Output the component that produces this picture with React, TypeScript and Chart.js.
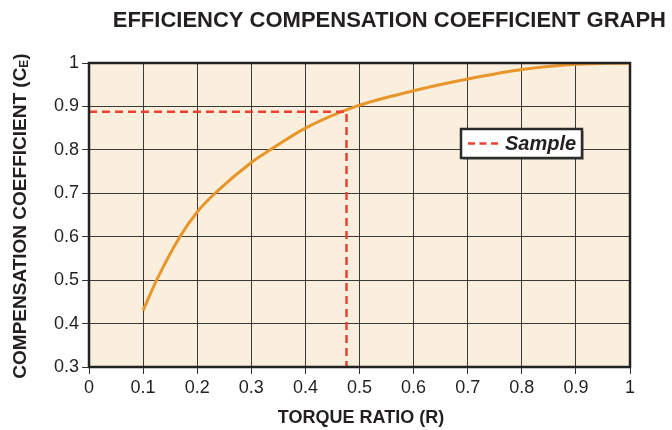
import { useEffect, useRef } from 'react';
import { Chart, registerables } from 'chart.js';

Chart.register(...registerables);

const chartTitle = 'EFFICIENCY COMPENSATION COEFFICIENT GRAPH';
const xAxisTitle = 'TORQUE RATIO (R)';
const yAxisTitleMain = 'COMPENSATION COEFFICIENT (C';
const yAxisTitleSub = 'E';
const yAxisTitleEnd = ')';

const torqueRatio = [0.1, 0.125, 0.168, 0.2, 0.233, 0.3, 0.335, 0.4, 0.4935, 0.6, 0.7, 0.8, 0.9, 1.0];
const coefficient = [0.43, 0.5, 0.6, 0.657, 0.7, 0.771, 0.8, 0.85, 0.9, 0.936, 0.963, 0.985, 0.997, 1.0];

const sampleLabel = 'Sample';
const sampleR = 0.476;
const sampleCe = 0.888;

const xTickValues = [0, 0.1, 0.2, 0.3, 0.4, 0.5, 0.6, 0.7, 0.8, 0.9, 1];
const xTickLabels = ['0', '0.1', '0.2', '0.3', '0.4', '0.5', '0.6', '0.7', '0.8', '0.9', '1'];
const yTickValues = [0.3, 0.4, 0.5, 0.6, 0.7, 0.8, 0.9, 1];
const yTickLabels = ['0.3', '0.4', '0.5', '0.6', '0.7', '0.8', '0.9', '1'];

const FONT = '"Liberation Sans", Arial, Helvetica, sans-serif';
const TEXT = '#231f20';
const CURVE = '#e8952a';
const RED = '#ee4130';

const decorPlugin = {
  id: 'decor',
  beforeDraw(chart: any) {
    const { ctx, chartArea: a } = chart;
    ctx.save();
    ctx.fillStyle = '#faeedd';
    ctx.fillRect(a.left, a.top, a.right - a.left, a.bottom - a.top);
    ctx.restore();
  },
  afterDraw(chart: any) {
    const { ctx, chartArea: a } = chart;
    ctx.save();
    // frame
    ctx.strokeStyle = '#222222';
    ctx.lineWidth = 2.5;
    ctx.strokeRect(a.left, a.top, a.right - a.left, a.bottom - a.top);

    // chart title
    ctx.fillStyle = TEXT;
    ctx.font = `bold 22px ${FONT}`;
    ctx.textAlign = 'right';
    ctx.textBaseline = 'middle';
    ctx.fillText(chartTitle, 666, 21);

    // x axis title
    ctx.font = `bold 18px ${FONT}`;
    ctx.textAlign = 'center';
    ctx.fillText(xAxisTitle, 361, 418);

    // y axis title with subscript
    ctx.save();
    ctx.translate(19, 216);
    ctx.rotate(-Math.PI / 2);
    const mainFont = `bold 19px ${FONT}`;
    const subFont = `bold 12px ${FONT}`;
    ctx.font = mainFont;
    const w1 = ctx.measureText(yAxisTitleMain).width;
    const w3 = ctx.measureText(yAxisTitleEnd).width;
    ctx.font = subFont;
    const w2 = ctx.measureText(yAxisTitleSub).width;
    const total = w1 + w2 + w3;
    let x = -total / 2;
    ctx.textAlign = 'left';
    ctx.textBaseline = 'alphabetic';
    ctx.font = mainFont;
    ctx.fillText(yAxisTitleMain, x, 7);
    x += w1;
    ctx.font = subFont;
    ctx.fillText(yAxisTitleSub, x, 9);
    x += w2;
    ctx.font = mainFont;
    ctx.fillText(yAxisTitleEnd, x, 7);
    ctx.restore();

    // legend
    const lx = 461, ly = 129, lw = 121, lh = 29;
    ctx.fillStyle = 'rgba(0,0,0,0.25)';
    ctx.fillRect(lx + 2, ly + 2, lw, lh);
    ctx.fillStyle = '#ffffff';
    ctx.fillRect(lx, ly, lw, lh);
    ctx.strokeStyle = '#2b2b2b';
    ctx.lineWidth = 2.5;
    ctx.strokeRect(lx, ly, lw, lh);
    ctx.strokeStyle = RED;
    ctx.lineWidth = 2.5;
    ctx.setLineDash([7, 4.5]);
    ctx.beginPath();
    ctx.moveTo(468, ly + lh / 2);
    ctx.lineTo(501, ly + lh / 2);
    ctx.stroke();
    ctx.setLineDash([]);
    ctx.fillStyle = TEXT;
    ctx.font = `italic bold 20px ${FONT}`;
    ctx.textAlign = 'left';
    ctx.textBaseline = 'middle';
    ctx.fillText(sampleLabel, 505, ly + lh / 2 + 1);
    ctx.restore();
  },
};

export default function App() {
  const canvasRef = useRef<HTMLCanvasElement | null>(null);

  useEffect(() => {
    if (!canvasRef.current) return;
    const chart = new Chart(canvasRef.current, {
      type: 'line',
      data: {
        datasets: [
          {
            label: sampleLabel,
            data: [
              { x: 0, y: sampleCe },
              { x: sampleR, y: sampleCe },
              { x: sampleR, y: 0.3 },
            ],
            borderColor: RED,
            borderWidth: 2.5,
            borderDash: [8, 5],
            pointRadius: 0,
            tension: 0,
            fill: false,
          },
          {
            label: 'Ce',
            data: torqueRatio.map((r, i) => ({ x: r, y: coefficient[i] })),
            borderColor: CURVE,
            borderWidth: 3,
            pointRadius: 0,
            cubicInterpolationMode: 'monotone',
            fill: false,
          },
        ],
      },
      options: {
        responsive: false,
        animation: false,
        events: [],
        layout: { padding: { left: 0, top: 63, right: 42, bottom: 0 } },
        plugins: {
          legend: { display: false },
          title: { display: false },
          tooltip: { enabled: false },
        },
        scales: {
          x: {
            type: 'linear',
            min: 0,
            max: 1,
            afterBuildTicks: (s: any) => {
              s.ticks = xTickValues.map((v) => ({ value: v }));
            },
            afterFit: (s: any) => {
              s.height = 63;
            },
            ticks: {
              callback: (_v: any, i: number) => xTickLabels[i],
              font: { family: FONT, size: 18 },
              color: TEXT,
              padding: 3,
              maxRotation: 0,
            },
            grid: {
              color: '#3a3a3a',
              lineWidth: 1,
              tickColor: '#333333',
              tickLength: 7,
            },
            border: { display: false },
          },
          y: {
            type: 'linear',
            min: 0.3,
            max: 1,
            afterBuildTicks: (s: any) => {
              s.ticks = yTickValues.map((v) => ({ value: v }));
            },
            afterFit: (s: any) => {
              s.width = 89;
            },
            ticks: {
              callback: (_v: any, i: number) => yTickLabels[i],
              font: { family: FONT, size: 18 },
              color: TEXT,
              padding: 3,
            },
            grid: {
              color: '#3a3a3a',
              lineWidth: 1,
              tickColor: '#333333',
              tickLength: 7,
            },
            border: { display: false },
          },
        },
      },
      plugins: [decorPlugin],
    });
    return () => chart.destroy();
  }, []);

  return (
    <div style={{ position: 'absolute', left: 0, top: 0, width: 672, height: 430, background: '#ffffff' }}>
      <canvas ref={canvasRef} width={672} height={430} style={{ display: 'block' }} />
    </div>
  );
}
